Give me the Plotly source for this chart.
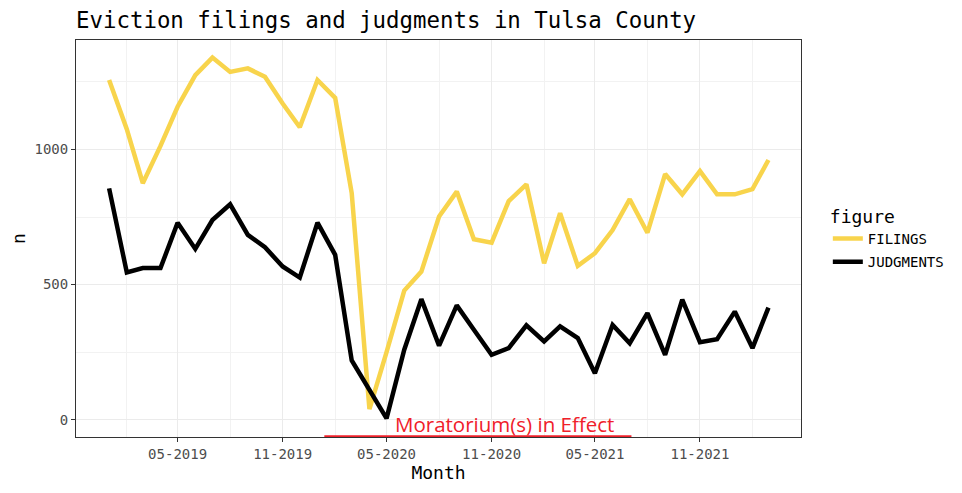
import plotly.graph_objects as go
import pandas as pd

# monthly counts, Jan 2019 - Mar 2022
months = pd.date_range("2019-01-01", "2022-03-01", freq="MS")
filings = [1257, 1075, 875, 1013, 1158, 1275, 1340, 1287, 1300, 1269, 1170, 1082,
           1257, 1191, 838, 39, 250, 478, 548, 752, 844, 668, 655, 809,
           871, 579, 764, 569, 616, 702, 816, 692, 909, 834, 920, 834,
           834, 853, 961]
judgments = [856, 545, 561, 561, 729, 632, 739, 797, 684, 638, 567, 526,
             729, 610, 219, 111, 5, 259, 446, 274, 423, 333, 240, 265,
             349, 290, 345, 302, 172, 351, 283, 394, 240, 444, 287, 298,
             400, 265, 415]

moratorium_start = "2020-01-13"
moratorium_end = "2021-07-04"
moratorium_label = "Moratorium(s) in Effect"

MONO = "DejaVu Sans Mono"

fig = go.Figure()
fig.add_trace(go.Scatter(x=months, y=filings, mode="lines", name="FILINGS", legendgroup="f",
                         line=dict(color="#F8D44C", width=4.5)))
fig.add_trace(go.Scatter(x=months, y=judgments, mode="lines", name="JUDGMENTS", legendgroup="j",
                         line=dict(color="#000000", width=4.5)))

# moratorium bar along the bottom of the panel
fig.add_shape(type="line", xref="x", yref="y", x0=moratorium_start, x1=moratorium_end,
              y0=-63, y1=-63, line=dict(color="#F0202A", width=3))
fig.add_annotation(x="2020-11-23", y=-15, xref="x", yref="y", text=moratorium_label,
                   showarrow=False, font=dict(family="Open Sans", size=20.5, color="#F0202A"))

# the page body adds an 8px offset, so margins are shifted to compensate
fig.update_layout(
    width=962, height=493,
    margin=dict(l=68, r=169, t=32, b=64),
    paper_bgcolor="white", plot_bgcolor="white",
    title=dict(text="Eviction filings and judgments in Tulsa County",
               x=68 / 962, xanchor="left", y=1 - 12 / 493, yanchor="middle",
               font=dict(family=MONO, size=22.4, color="black")),
    legend=dict(title=dict(text="figure", font=dict(family=MONO, size=18, color="black")),
                font=dict(family=MONO, size=14, color="black"),
                x=1.037, y=0.5, xanchor="left", yanchor="middle",
                traceorder="grouped", itemwidth=30, tracegroupgap=2,
                bgcolor="rgba(0,0,0,0)"),
    xaxis=dict(type="date", range=["2018-11-04", "2022-04-27"], automargin=False,
               tickformat="%m-%Y", dtick="M6", tick0="2019-05-01",
               showgrid=True, gridcolor="#EBEBEB", gridwidth=1.1,
               minor=dict(dtick="M3", tick0="2019-02-01", showgrid=True,
                          gridcolor="#F2F2F2", gridwidth=0.6),
               ticks="outside", ticklen=4, tickcolor="#333333",
               tickfont=dict(family=MONO, size=14, color="#4D4D4D"),
               title=dict(text="Month", font=dict(family=MONO, size=18, color="black"), standoff=2),
               showline=True, linecolor="#333333", linewidth=1, mirror=True, zeroline=False),
    yaxis=dict(range=[-64, 1405], tickvals=[0, 500, 1000], automargin=False,
               showgrid=True, gridcolor="#EBEBEB", gridwidth=1.1,
               minor=dict(tickvals=[250, 750, 1250], showgrid=True,
                          gridcolor="#F2F2F2", gridwidth=0.6),
               ticks="outside", ticklen=4, tickcolor="#333333",
               tickfont=dict(family=MONO, size=14, color="#4D4D4D"),
               title=dict(text="n", font=dict(family=MONO, size=18, color="black"), standoff=14),
               showline=True, linecolor="#333333", linewidth=1, mirror=True, zeroline=False),
)

fig.write_html("out.html")
